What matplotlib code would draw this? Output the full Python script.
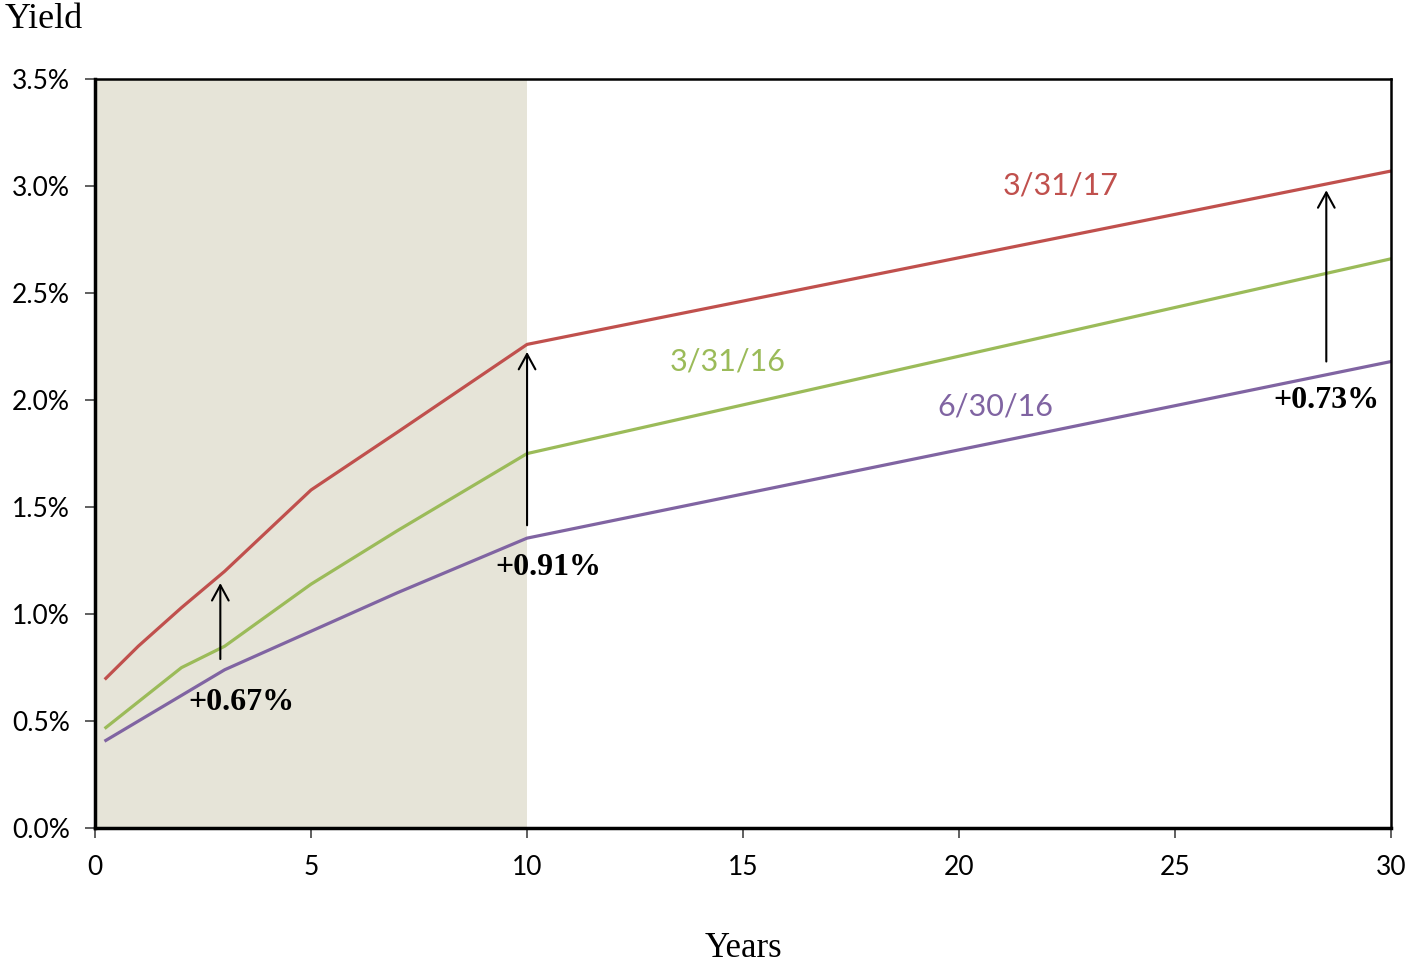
import matplotlib
matplotlib.use("Agg")
import matplotlib.pyplot as plt
from matplotlib.ticker import FuncFormatter

maturities = [0.25, 1, 2, 3, 5, 7, 10, 30]
y_3_31_17 = [0.70, 0.85, 1.03, 1.20, 1.58, 1.85, 2.26, 3.07]
y_3_31_16 = [0.47, 0.59, 0.75, 0.85, 1.14, 1.39, 1.75, 2.66]
y_6_30_16 = [0.41, 0.50, 0.62, 0.74, 0.92, 1.10, 1.355, 2.18]

series_labels = ["3/31/17", "3/31/16", "6/30/16"]
colors = ["#C0504D", "#9BBB59", "#8064A2"]

arrows = [(2.9, 0.79, 1.145), (10.0, 1.415, 2.225), (28.5, 2.18, 2.98)]
arrow_texts = ["+0.67%", "+0.91%", "+0.73%"]
arrow_text_pos = [(3.4, 0.585), (10.5, 1.22), (28.5, 2.0)]
series_label_pos = [(22.36, 3.0), (14.65, 2.18), (20.85, 1.97)]

fig = plt.figure(figsize=(14.08, 9.63), dpi=100)
ax = fig.add_axes([0.0675, 0.140, 0.9205, 0.778])

ax.axvspan(0, 10, color="#E6E4D8", zorder=0, lw=0)

for ys, c in zip([y_3_31_17, y_3_31_16, y_6_30_16], colors):
    ax.plot(maturities, ys, color=c, lw=2.3, zorder=3)

for (x, y0, y1) in arrows:
    ax.annotate("", xy=(x, y1), xytext=(x, y0),
                arrowprops=dict(arrowstyle="->,head_length=1.1,head_width=0.6",
                                color="black", lw=1.5, shrinkA=0, shrinkB=0),
                zorder=4)

for t, (x, y) in zip(arrow_texts, arrow_text_pos):
    ax.text(x, y, t, ha="center", va="center", fontsize=23,
            fontweight="bold", family="Liberation Serif", zorder=5)

for t, (x, y), c in zip(series_labels, series_label_pos, colors):
    ax.text(x, y, t, ha="center", va="center", fontsize=22,
            color=c, family="Lato", zorder=5)

ax.set_xlim(0, 30)
ax.set_ylim(0, 3.5)
ax.set_xticks([0, 5, 10, 15, 20, 25, 30])
ax.set_yticks([0, 0.5, 1.0, 1.5, 2.0, 2.5, 3.0, 3.5])
ax.yaxis.set_major_formatter(FuncFormatter(lambda v, p: f"{v:.1f}%"))
ax.tick_params(axis="both", direction="out", length=7, width=1.2,
               color="#444444", labelsize=19)
ax.tick_params(axis="x", pad=12)
ax.tick_params(axis="y", pad=11)
for lab in ax.get_xticklabels() + ax.get_yticklabels():
    lab.set_family("Lato")

for s in ["left", "bottom"]:
    ax.spines[s].set_linewidth(2.5)
for s in ["top", "right"]:
    ax.spines[s].set_linewidth(1.8)
for s in ax.spines.values():
    s.set_color("black")
    s.set_zorder(6)

fig.text(0.003, 0.997, "Yield", ha="left", va="top", fontsize=26,
         family="Liberation Serif")
fig.text(0.528, 0.015, "Years", ha="center", va="center", fontsize=25,
         family="Liberation Serif")

fig.savefig("out.png", dpi=100)
